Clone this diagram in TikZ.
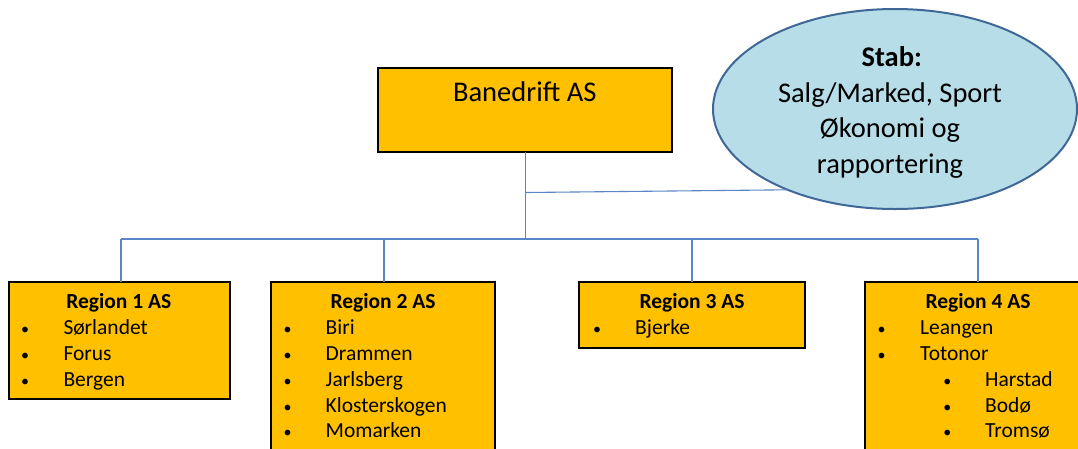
\documentclass[tikz,border=0pt]{standalone}
\usepackage{fontspec}
\setmainfont{Carlito}
\usetikzlibrary{shapes.geometric}
\definecolor{gold}{HTML}{FFC000}
\definecolor{stabfill}{HTML}{B7DEE8}
\definecolor{stabline}{HTML}{3F6797}
\definecolor{connc}{HTML}{5B86C5}
\tikzset{
  goldbox/.style={draw=black, line width=2pt, fill=gold, inner sep=0, outer sep=0, anchor=north west},
  conn/.style={draw=connc, line width=1.1pt},
  big/.style={inner sep=0, font=\fontsize{28.5}{35.5}\selectfont, anchor=base},
  ttl/.style={inner sep=0, font=\fontsize{21.5}{25.6}\selectfont\bfseries, anchor=base},
  item/.style={inner sep=0, font=\fontsize{21.5}{25.6}\selectfont, anchor=base west},
  bul/.style={inner sep=0, font=\fontsize{16}{18}\selectfont, anchor=base}
}
\begin{document}
\begin{tikzpicture}[x=1pt, y=-1pt]
\clip (0,0) rectangle (1078,448);
\fill[white] (0,0) rectangle (1078,448);

% top box
\node[goldbox, minimum width=294, minimum height=84] (ban) at (378,68) {};
\node[big] (bant) at (524.7,101.7) {Banedrift AS};

% staff ellipse
\node[ellipse, draw=stabline, line width=2pt, fill=stabfill, minimum width=364, minimum height=200, inner sep=0, outer sep=0] (stab) at (895,109) {};
\node[big, font=\fontsize{28.5}{35.5}\selectfont\bfseries] (s1) at (891.7,66.5) {Stab:};
\node[big] (s2) at (890,102) {Salg/Marked, Sport};
\node[big] (s3) at (890,137.5) {Økonomi og};
\node[big] (s4) at (890,173) {rapportering};

% region boxes
\node[goldbox, minimum width=221, minimum height=117] (r1) at (8.5,281.5) {};
\node[goldbox, minimum width=224, minimum height=180] (r2) at (271,281.5) {};
\node[goldbox, minimum width=226, minimum height=66] (r3) at (579,281.5) {};
\node[goldbox, minimum width=226, minimum height=180] (r4) at (865,281.5) {};

% connectors
\coordinate (tj) at (525.7,192.5);
\coordinate (b1) at (121,239);
\coordinate (b2) at (384,239);
\coordinate (b3) at (692,239);
\coordinate (b4) at (978,239);
\draw[conn] (tj |- ban.south) -- (tj |- b1);
\draw[conn] (tj) -- (stab.217);
\draw[conn] (b1) -- (b4);
\draw[conn] (b1) -- (b1 |- r1.north);
\draw[conn] (b2) -- (b2 |- r2.north);
\draw[conn] (b3) -- (b3 |- r3.north);
\draw[conn] (b4) -- (b4 |- r4.north);

% Region 1
\node[ttl] (t1) at (118.8,308) {Region 1 AS};
\node[bul] (p11) at (25,334.3) {•};
\node[item] (i11) at (63.3,334.3) {Sørlandet};
\node[bul] (p12) at (25,360.5) {•};
\node[item] (i12) at (63.3,360.5) {Forus};
\node[bul] (p13) at (25,386.7) {•};
\node[item] (i13) at (63.3,386.7) {Bergen};

% Region 2
\node[ttl] (t2) at (383,308) {Region 2 AS};
\node[bul] (p21) at (287.5,334.3) {•};
\node[item] (i21) at (325.5,334.3) {Biri};
\node[bul] (p22) at (287.5,360.5) {•};
\node[item] (i22) at (325.5,360.5) {Drammen};
\node[bul] (p23) at (287.5,386.7) {•};
\node[item] (i23) at (325.5,386.7) {Jarlsberg};
\node[bul] (p24) at (287.5,412) {•};
\node[item] (i24) at (325.5,412) {Klosterskogen};
\node[bul] (p25) at (287.5,437.5) {•};
\node[item] (i25) at (325.5,437.5) {Momarken};

% Region 3
\node[ttl] (t3) at (692,308) {Region 3 AS};
\node[bul] (p31) at (597,334.3) {•};
\node[item] (i31) at (635,334.3) {Bjerke};

% Region 4
\node[ttl] (t4) at (978,308) {Region 4 AS};
\node[bul] (p41) at (881.7,334.3) {•};
\node[item] (i41) at (920,334.3) {Leangen};
\node[bul] (p42) at (881.7,360.5) {•};
\node[item] (i42) at (920,360.5) {Totonor};
\node[bul] (p43) at (947.3,386.7) {•};
\node[item] (i43) at (985,386.7) {Harstad};
\node[bul] (p44) at (947.3,412) {•};
\node[item] (i44) at (985,412) {Bodø};
\node[bul] (p45) at (947.3,437.5) {•};
\node[item] (i45) at (985,437.5) {Tromsø};
\end{tikzpicture}
\end{document}
